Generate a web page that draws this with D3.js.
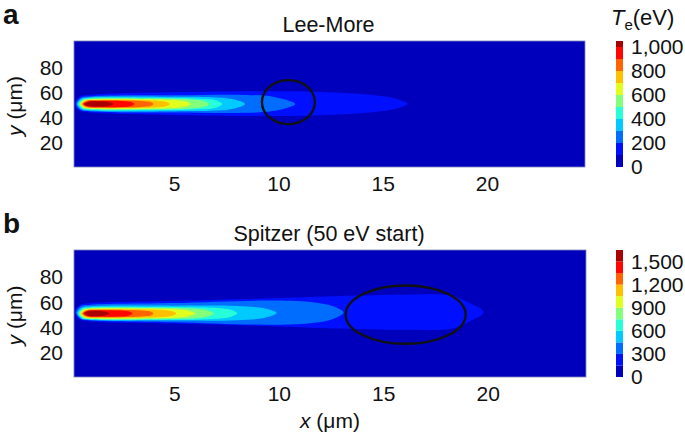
<!DOCTYPE html>
<html>
<head>
<meta charset="utf-8">
<script src="https://cdn.jsdelivr.net/npm/d3@7"></script>
<style>
body { margin: 0; background: #fff; }
text { font-family: 'Liberation Sans', Arial, sans-serif; fill: #111; }
</style>
</head>
<body>
<svg id="chart" width="685" height="435"></svg>
<script>
// axis ticks
const xTicks = [5, 10, 15, 20]
const yTicks = [20, 40, 60, 80]

// colour levels (eV) and colourbar ticks
const levelsA = [0, 100, 200, 300, 400, 500, 600, 700, 800, 900, 1000]
const levelsB = [0, 150, 300, 450, 600, 750, 900, 1050, 1200, 1350, 1500]
const cbTicksA = [0, 200, 400, 600, 800, 1000]
const cbTicksB = [0, 300, 600, 900, 1200, 1500]
const cbMaxA = 1050
const cbMaxB = 1650

// filled contours: level index, centre y, profile [x, half width]
const plumeA = [
  {lev: 1, cy: 50.8, pts: [[0.25, 0], [0.45, 5.5], [1, 7.2], [5, 9.2], [9, 10], [12, 9.4], [14.5, 7], [15.6, 4.2], [16.2, 0]]},
  {lev: 2, cy: 50.6, pts: [[0.3, 0], [0.5, 4.8], [1, 6.2], [5, 7], [8.5, 7.2], [9.8, 5.6], [10.8, 0]]},
  {lev: 3, cy: 50.5, pts: [[0.35, 0], [0.55, 4.2], [1, 5.4], [5, 5.8], [7, 5.3], [7.9, 3.6], [8.4, 0]]},
  {lev: 4, cy: 50.5, pts: [[0.4, 0], [0.6, 3.8], [1, 4.8], [4, 5], [6.2, 4.3], [7, 3], [7.3, 0]]},
  {lev: 5, cy: 50.5, pts: [[0.45, 0], [0.65, 3.4], [1, 4.3], [4, 4.4], [5.8, 3.6], [6.4, 2.5], [6.7, 0]]},
  {lev: 6, cy: 50.5, pts: [[0.5, 0], [0.7, 3], [1.2, 3.8], [3.5, 3.8], [5, 3.2], [5.5, 2.2], [5.8, 0]]},
  {lev: 7, cy: 50.5, pts: [[0.55, 0], [0.75, 2.7], [1.3, 3.3], [3, 3.3], [4.2, 2.7], [4.6, 1.8], [4.8, 0]]},
  {lev: 8, cy: 50.5, pts: [[0.6, 0], [0.8, 2.4], [1.4, 2.9], [2.8, 2.8], [3.6, 2.2], [3.9, 1.4], [4.0, 0]]},
  {lev: 9, cy: 50.5, pts: [[0.65, 0], [0.85, 2.1], [1.4, 2.6], [2.4, 2.5], [2.9, 1.8], [3.1, 0]]},
  {lev: 10, cy: 50.5, pts: [[0.7, 0], [0.9, 1.7], [1.4, 2.1], [1.8, 1.8], [2.1, 0]]}
]

const plumeB = [
  {lev: 1, cy: 51.5, pts: [[0.25, 0], [0.45, 5.5], [1, 7.3], [5, 9], [10, 11.3], [13, 13], [16, 14], [18.3, 13], [19.1, 7.5], [19.8, 0]]},
  {lev: 2, cy: 51.2, pts: [[0.3, 0], [0.5, 4.9], [1, 6.2], [5, 7.6], [9.5, 9.6], [11.5, 8.4], [12.6, 5], [13.1, 0]]},
  {lev: 3, cy: 50.8, pts: [[0.35, 0], [0.55, 4.3], [1, 5.4], [5, 5.9], [8, 5.6], [9.3, 3.8], [9.9, 0]]},
  {lev: 4, cy: 50.6, pts: [[0.4, 0], [0.6, 3.9], [1, 4.9], [4, 5.1], [6.8, 4.4], [7.7, 2.8], [8.0, 0]]},
  {lev: 5, cy: 50.5, pts: [[0.45, 0], [0.65, 3.5], [1, 4.4], [4, 4.5], [6, 3.7], [6.6, 2.4], [6.9, 0]]},
  {lev: 6, cy: 50.5, pts: [[0.5, 0], [0.7, 3.1], [1.2, 3.9], [3.5, 3.9], [5.2, 3.2], [5.7, 2.1], [6.0, 0]]},
  {lev: 7, cy: 50.5, pts: [[0.55, 0], [0.75, 2.7], [1.3, 3.4], [3, 3.3], [4.5, 2.7], [4.9, 1.7], [5.1, 0]]},
  {lev: 8, cy: 50.5, pts: [[0.6, 0], [0.8, 2.4], [1.4, 2.9], [2.8, 2.8], [3.6, 2.2], [3.9, 1.4], [4.0, 0]]},
  {lev: 9, cy: 50.5, pts: [[0.65, 0], [0.85, 2.1], [1.4, 2.6], [2.3, 2.4], [2.8, 1.7], [3.0, 0]]},
  {lev: 10, cy: 50.5, pts: [[0.7, 0], [0.9, 1.7], [1.3, 2.1], [1.6, 1.8], [1.9, 0]]}
]

// circled regions
const ringA = {cx: 10.48, cy: 52, rx: 1.27, ry: 17.6}
const ringB = {cx: 16.07, cy: 49.6, rx: 2.87, ry: 23.2}

const svg = d3.select('#chart')
const FS = 21

// jet colour map
const jet = d3.scaleLinear()
  .domain([0, 0.125, 0.375, 0.625, 0.875, 1])
  .range(['#00008f', '#0000ff', '#00ffff', '#ffff00', '#ff0000', '#800000'])
const bandColor = i => jet((i + 0.55) / 11)

function panel(opt) {
  const x = d3.scaleLinear().domain([0.2, 24.7]).range([opt.left, opt.right])
  const y = d3.scaleLinear().domain([0, 101]).range([opt.bottom, opt.top])
  const g = svg.append('g')

  const clipId = 'clip' + opt.id
  g.append('clipPath').attr('id', clipId)
    .append('rect')
    .attr('x', opt.left).attr('y', opt.top)
    .attr('width', opt.right - opt.left).attr('height', opt.bottom - opt.top)

  const plot = g.append('g').attr('clip-path', `url(#${clipId})`)
  plot.append('rect')
    .attr('x', opt.left).attr('y', opt.top)
    .attr('width', opt.right - opt.left).attr('height', opt.bottom - opt.top)
    .attr('fill', bandColor(0))

  const line = d3.line().x(d => x(d[0])).y(d => y(d[1])).curve(d3.curveCatmullRomClosed.alpha(0.5))
  opt.plume.forEach(c => {
    const top = c.pts.map(p => [p[0], c.cy + p[1]])
    const bot = c.pts.slice(1, -1).reverse().map(p => [p[0], c.cy - p[1]])
    plot.append('path')
      .attr('d', line(top.concat(bot)))
      .attr('fill', bandColor(c.lev))
  })

  plot.append('ellipse')
    .attr('cx', x(opt.ring.cx)).attr('cy', y(opt.ring.cy))
    .attr('rx', x(opt.ring.cx + opt.ring.rx) - x(opt.ring.cx))
    .attr('ry', y(opt.ring.cy) - y(opt.ring.cy + opt.ring.ry))
    .attr('fill', 'none').attr('stroke', '#111').attr('stroke-width', 2.4)

  g.append('rect')
    .attr('x', opt.left).attr('y', opt.top)
    .attr('width', opt.right - opt.left).attr('height', opt.bottom - opt.top)
    .attr('fill', 'none').attr('stroke', '#7f86b8').attr('stroke-width', 0.8)

  // axes without tick marks
  const xAxis = g.append('g')
    .attr('transform', `translate(0,${opt.bottom})`)
    .call(d3.axisBottom(x).tickValues(xTicks).tickSize(0).tickPadding(9))
  const yAxis = g.append('g')
    .attr('transform', `translate(${opt.left},0)`)
    .call(d3.axisLeft(y).tickValues(yTicks).tickSize(0).tickPadding(11))
  ;[xAxis, yAxis].forEach(a => {
    a.select('.domain').remove()
    a.selectAll('text').attr('font-size', FS).attr('fill', '#111')
      .style('font-family', "'Liberation Sans', Arial, sans-serif")
  })
  yAxis.selectAll('text').attr('dy', '0.36em')

  g.append('text')
    .attr('x', (opt.left + opt.right) / 2 - 1).attr('y', opt.top - 9)
    .attr('text-anchor', 'middle').attr('font-size', FS + 0.5)
    .text(opt.title)

  g.append('text')
    .attr('x', 3).attr('y', opt.top - 17)
    .attr('font-size', 28).attr('font-weight', 'bold')
    .text(opt.tag)

  const yl = g.append('text')
    .attr('transform', `translate(22,${(opt.top + opt.bottom) / 2 + 2}) rotate(-90)`)
    .attr('text-anchor', 'middle').attr('font-size', FS)
  yl.append('tspan').attr('font-style', 'italic').text('y')
  yl.append('tspan').text(' (μm)')

  // colour bar
  const cb = d3.scaleLinear().domain([0, opt.cbMax]).range([opt.bottom, opt.top])
  const step = opt.levels[1] - opt.levels[0]
  g.selectAll('.band').data(opt.levels).enter()
    .append('rect')
    .attr('x', 616).attr('width', 7)
    .attr('y', d => cb(Math.min(d + step, opt.cbMax)))
    .attr('height', d => cb(d) - cb(Math.min(d + step, opt.cbMax)))
    .attr('fill', (d, i) => bandColor(i))
  const cbAxis = g.append('g')
    .attr('transform', 'translate(623,0)')
    .call(d3.axisRight(cb).tickValues(opt.cbTicks).tickSize(0).tickPadding(8).tickFormat(d3.format(',')))
  cbAxis.select('.domain').remove()
  cbAxis.selectAll('text').attr('font-size', FS).attr('fill', '#111')
    .style('font-family', "'Liberation Sans', Arial, sans-serif")
}

panel({id: 'A', left: 74, right: 585, top: 41, bottom: 167, plume: plumeA, ring: ringA,
  title: 'Lee-More', tag: 'a', levels: levelsA, cbTicks: cbTicksA, cbMax: cbMaxA})
panel({id: 'B', left: 74, right: 586, top: 250, bottom: 377, plume: plumeB, ring: ringB,
  title: 'Spitzer (50 eV start)', tag: 'b', levels: levelsB, cbTicks: cbTicksB, cbMax: cbMaxB})

// x label
const xl = svg.append('text')
  .attr('x', 330).attr('y', 428)
  .attr('text-anchor', 'middle').attr('font-size', FS)
xl.append('tspan').attr('font-style', 'italic').text('x')
xl.append('tspan').text(' (μm)')

// colour bar title
const tl = svg.append('text').attr('x', 611).attr('y', 25).attr('font-size', 22)
tl.append('tspan').attr('font-style', 'italic').text('T')
tl.append('tspan').attr('font-size', 15).attr('dy', 5).text('e')
tl.append('tspan').attr('dy', -5).text('(eV)')
</script>
</body>
</html>
